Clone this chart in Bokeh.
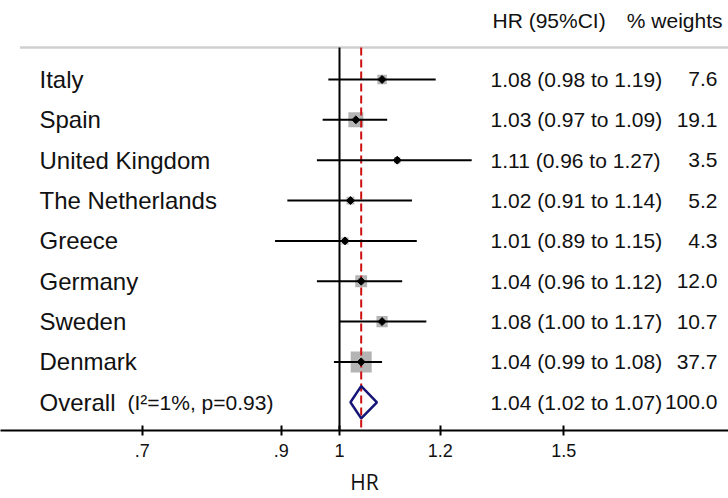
import numpy as np
from bokeh.plotting import figure
from bokeh.models import (Range1d, FixedTicker, ColumnDataSource, LabelSet, Label)
from bokeh.core.properties import value
from bokeh.embed import file_html
from bokeh.resources import INLINE

# ---------------- data ----------------
countries = ["Italy", "Spain", "United Kingdom", "The Netherlands", "Greece",
             "Germany", "Sweden", "Denmark"]
hr = [1.08, 1.03, 1.11, 1.02, 1.01, 1.04, 1.08, 1.04]
ci_low = [0.98, 0.97, 0.96, 0.91, 0.89, 0.96, 1.00, 0.99]
ci_high = [1.19, 1.09, 1.27, 1.14, 1.15, 1.12, 1.17, 1.08]
weights = [7.6, 19.1, 3.5, 5.2, 4.3, 12.0, 10.7, 37.7]

overall_name = "Overall"
overall_het = "(I\u00b2=1%, p=0.93)"
overall_hr = [1.04]
overall_low = [1.02]
overall_high = [1.07]
overall_weight = [100.0]

tick_values = [0.7, 0.9, 1.0, 1.2, 1.5]
tick_labels = [".7", ".9", "1", "1.2", "1.5"]
header_ci = "HR (95%CI)"
header_weight = "% weights"
x_title = "HR"
null_value = 1.0

# ---------------- layout ----------------
FONT = "Liberation Sans"
n = len(countries)
rows = list(range(n))
overall_row = n

ci_text = [f"{h:.2f} ({l:.2f} to {u:.2f})" for h, l, u in zip(hr, ci_low, ci_high)]
w_text = [f"{w:.1f}" for w in weights]
ci_text.append(f"{overall_hr[0]:.2f} ({overall_low[0]:.2f} to {overall_high[0]:.2f})")
w_text.append(f"{overall_weight[0]:.1f}")

X_LO, X_HI = 0.5417, 2.0207
Y_TOP, Y_AXIS = -1.958, 8.70

p = figure(frame_width=728, frame_height=430, x_axis_type="log",
           x_range=Range1d(X_LO, X_HI), y_range=Range1d(Y_AXIS, Y_TOP),
           output_backend="svg", toolbar_location=None,
           min_border_left=0, min_border_right=0, min_border_top=0,
           min_border_bottom=0, y_axis_location=None)
p.outline_line_color = None
p.xgrid.visible = False
p.ygrid.visible = False
p.background_fill_color = "white"
p.border_fill_color = "white"

top_line = -0.79

# header line
p.segment(x0=[0.5612], x1=[X_HI], y0=[top_line], y1=[top_line],
          line_color="#cfcfcf", line_width=2.5)

# weight boxes
box_src = ColumnDataSource(dict(x=hr, y=rows, size=[3.42 * np.sqrt(w) for w in weights]))
p.scatter(x="x", y="y", size="size", source=box_src, marker="square",
          fill_color="#b4b4b4", line_color=None)

# reference lines
p.segment(x0=[null_value], x1=[null_value], y0=[top_line], y1=[Y_AXIS],
          line_color="black", line_width=2)
p.segment(x0=overall_hr, x1=overall_hr, y0=[top_line], y1=[Y_AXIS],
          line_color="#cc1010", line_width=2, line_dash="8 4")

# confidence intervals
p.segment(x0=ci_low, x1=ci_high, y0=rows, y1=rows, line_color="black", line_width=2)
p.scatter(x=hr, y=rows, marker="square", angle=np.pi / 4, size=5.6,
          fill_color="black", line_color="black")

# overall diamond
dh = 0.40
p.patch(x=[overall_low[0], overall_hr[0], overall_high[0], overall_hr[0]],
        y=[overall_row, overall_row - dh, overall_row, overall_row + dh],
        fill_color=None, line_color="#151578", line_width=2.5)

# text columns
TXT = "#111111"
name_src = ColumnDataSource(dict(y=rows, t=countries))
p.add_layout(LabelSet(x=39, y="y", text="t", x_units="screen", source=name_src,
                      text_font=value(FONT), text_font_size="24px",
                      text_baseline="middle", text_color=TXT))
p.add_layout(Label(x=39, y=overall_row, x_units="screen", text=overall_name,
                   text_font=FONT, text_font_size="24px",
                   text_baseline="middle", text_color=TXT))
p.add_layout(Label(x=127, y=overall_row, x_units="screen", text=overall_het,
                   text_font=FONT, text_font_size="21px",
                   text_baseline="middle", text_color=TXT))

num_src = ColumnDataSource(dict(y=rows + [overall_row], t=ci_text, w=w_text))
p.add_layout(LabelSet(x=490, y="y", text="t", x_units="screen", source=num_src,
                      text_font=value(FONT), text_font_size="21px",
                      text_baseline="middle", text_color=TXT))
p.add_layout(LabelSet(x=717, y="y", text="w", x_units="screen", source=num_src,
                      text_font=value(FONT), text_font_size="21px",
                      text_align="right", text_baseline="middle", text_color=TXT))

p.add_layout(Label(x=492, y=-1.45, x_units="screen", text=header_ci,
                   text_font=FONT, text_font_size="21px",
                   text_baseline="middle", text_color=TXT))
p.add_layout(Label(x=722, y=-1.45, x_units="screen", text=header_weight,
                   text_font=FONT, text_font_size="21px",
                   text_align="right", text_baseline="middle", text_color=TXT))

# x axis
ax = p.xaxis[0]
ax.ticker = FixedTicker(ticks=tick_values, minor_ticks=[])
ax.major_label_overrides = {v: l for v, l in zip(tick_values, tick_labels)}
ax.axis_label = x_title
ax.axis_line_width = 2
ax.axis_line_color = "black"
ax.major_tick_in = 5
ax.major_tick_out = 5
ax.major_tick_line_width = 2
ax.minor_tick_line_color = None
ax.major_label_text_font = FONT
ax.major_label_text_font_size = "18px"
ax.major_label_text_color = TXT
ax.major_label_standoff = 8
ax.axis_label_text_font = "Open Sans"
ax.axis_label_text_font_style = "normal"
ax.axis_label_text_font_size = "21px"
ax.axis_label_text_color = TXT
ax.axis_label_standoff = 8

open("out.html", "w").write(file_html(p, INLINE))
